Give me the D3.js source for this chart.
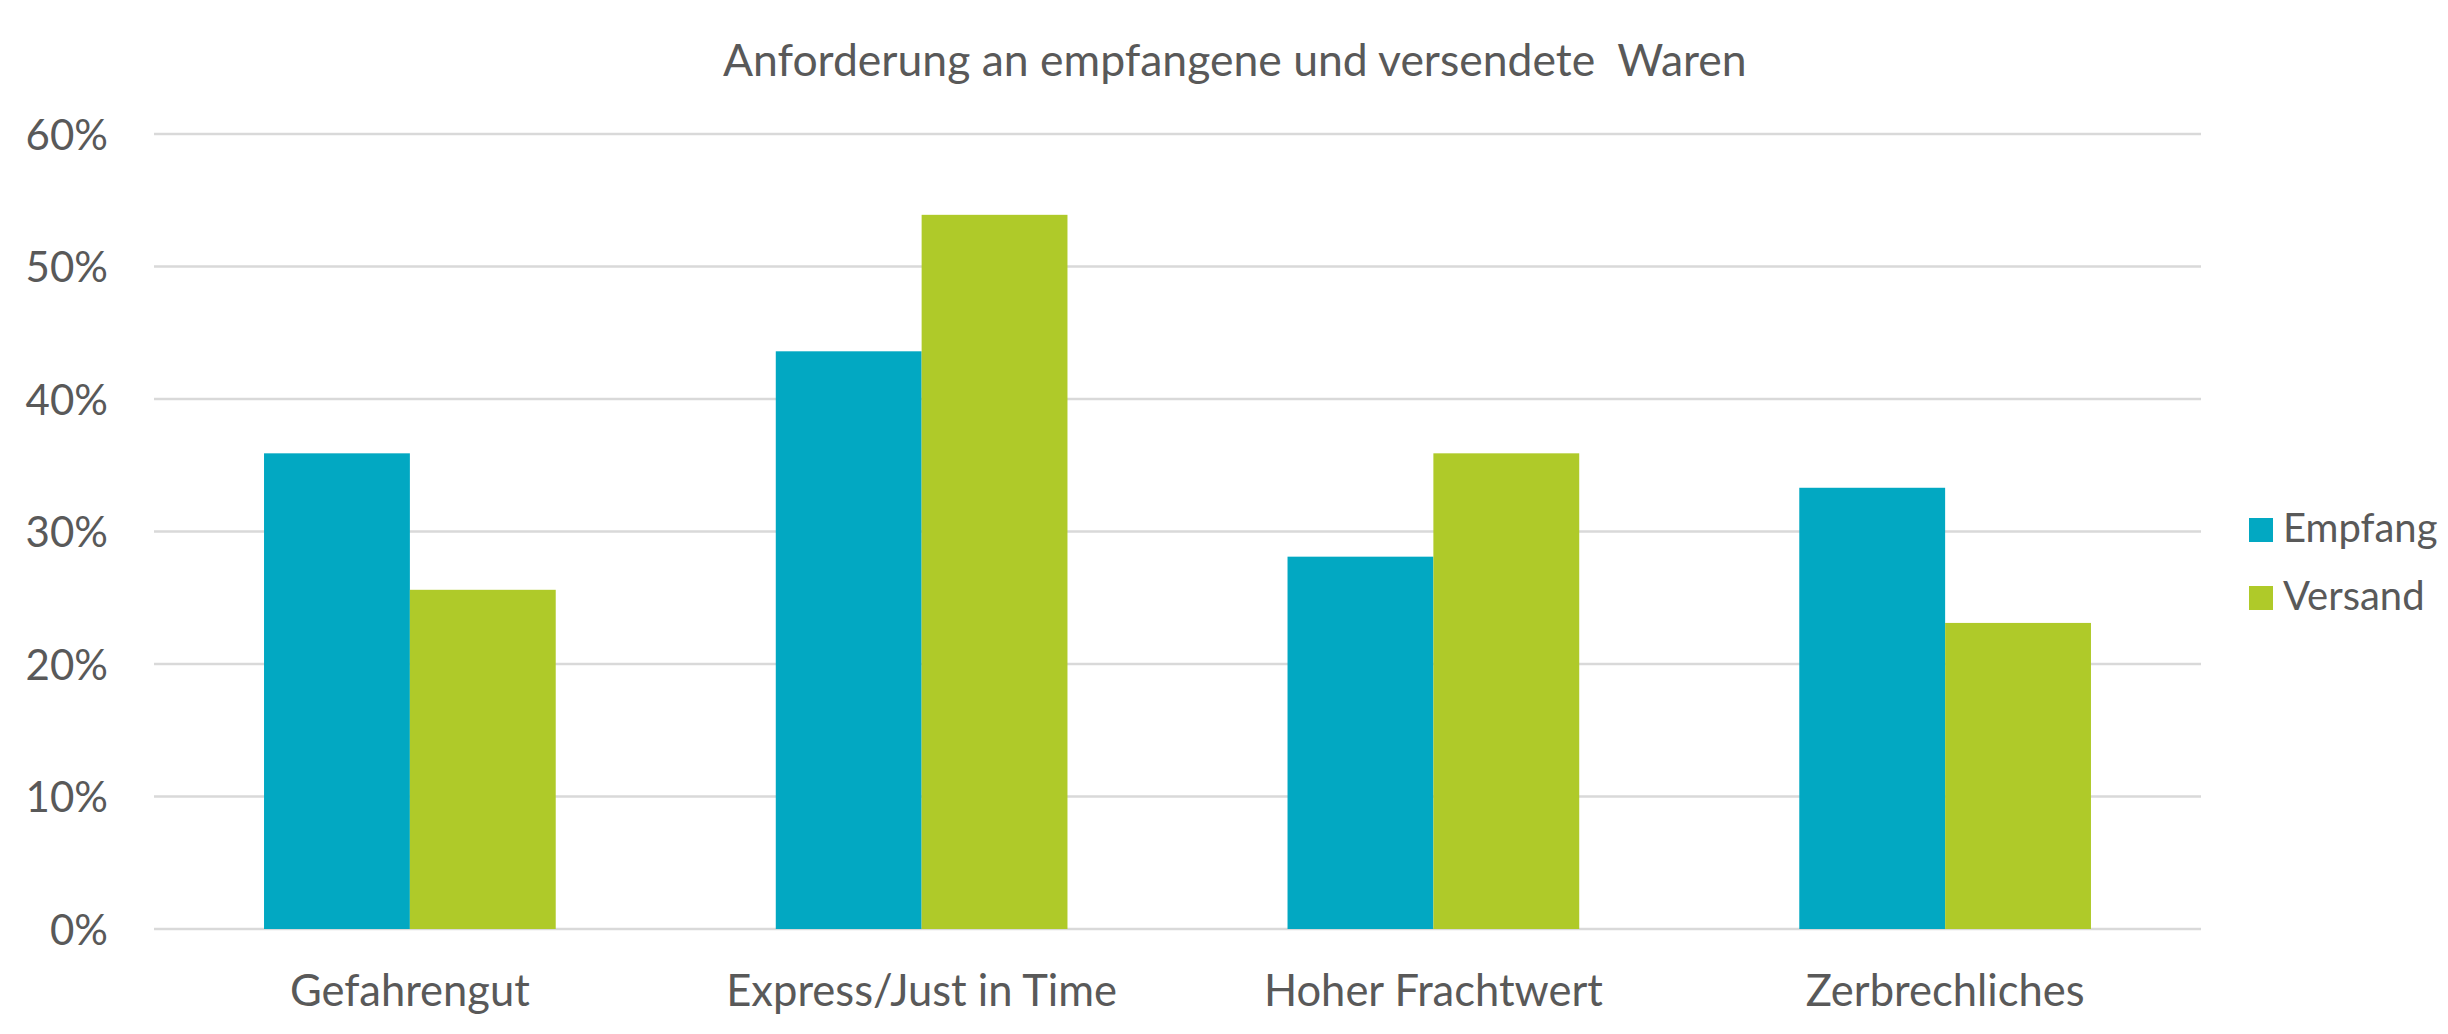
<!DOCTYPE html>
<html>
<head>
<meta charset="utf-8">
<script src="https://cdn.jsdelivr.net/npm/d3@7"></script>
<style>
	body { margin: 0; background: #fff; }
	text { font-family: Lato, "Open Sans", sans-serif; fill: #595959; }
</style>
</head>
<body>
<div id="chart"></div>
<script>
// dati
const categories = ["Gefahrengut", "Express/Just in Time", "Hoher Frachtwert", "Zerbrechliches"];
const seriesNames = ["Empfang", "Versand"];
const empfang = [0.359, 0.436, 0.281, 0.333];
const versand = [0.256, 0.539, 0.359, 0.231];
const yTicks = [0, 0.1, 0.2, 0.3, 0.4, 0.5, 0.6];
const colors = ["#02a8c2", "#afca29"];

const W = 2448, H = 1034;
const margin = { top: 134, right: 247, bottom: 105, left: 154 },
	width = W - margin.left - margin.right,
	height = H - margin.top - margin.bottom;

const svg = d3.select("#chart").append("svg")
	.attr("width", W)
	.attr("height", H),
	g = svg.append("g")
		.attr("transform", "translate(" + margin.left + "," + margin.top + ")");

const x0 = d3.scaleBand().domain(categories).range([0, width]);
// la coppia di barre occupa circa il 57% della banda
const x1 = d3.scaleBand().domain(seriesNames)
	.range([x0.bandwidth() * 0.215, x0.bandwidth() * 0.785]);
const y = d3.scaleLinear().domain([0, 0.6]).range([height, 0]);

// griglia orizzontale
g.selectAll(".grid")
	.data(yTicks)
	.enter().append("line")
	.attr("x1", 0).attr("x2", width)
	.attr("y1", d => y(d)).attr("y2", d => y(d))
	.style("stroke", "#d9d9d9")
	.style("stroke-width", 2.5);

// asse y
const yAxis = g.append("g")
	.call(d3.axisLeft(y).tickValues(yTicks).tickFormat(d3.format(".0%")).tickSize(0).tickPadding(46));
yAxis.select(".domain").remove();
yAxis.selectAll("text").style("font-size", "42px").attr("dy", "0.36em");

// asse x
const xAxis = g.append("g")
	.attr("transform", "translate(0," + height + ")")
	.call(d3.axisBottom(x0).tickSize(0).tickPadding(46));
xAxis.select(".domain").remove();
xAxis.selectAll("text").style("font-size", "43.5px");

// barre
const rows = categories.map((c, i) => ({ cat: c, values: [empfang[i], versand[i]] }));
const group = g.selectAll(".group")
	.data(rows)
	.enter().append("g")
	.attr("transform", d => "translate(" + x0(d.cat) + ",0)");

group.selectAll("rect")
	.data(d => d.values.map((v, k) => ({ key: seriesNames[k], value: v, k: k })))
	.enter().append("rect")
	.attr("x", d => x1(d.key))
	.attr("width", x1.bandwidth())
	.attr("y", d => y(d.value))
	.attr("height", d => y(0) - y(d.value))
	.style("fill", d => colors[d.k]);

// titolo
svg.append("text")
	.attr("x", 723)
	.attr("y", 76)
	.style("font-size", "44.5px")
	.style("white-space", "pre")
	.text("Anforderung an empfangene und versendete\u00a0 Waren");

// legenda
const legend = svg.append("g")
	.attr("transform", "translate(2249,518)");
const item = legend.selectAll(".item")
	.data(seriesNames)
	.enter().append("g")
	.attr("transform", (d, i) => "translate(0," + i * 68 + ")");
item.append("rect")
	.attr("width", 24).attr("height", 24)
	.style("fill", (d, i) => colors[i]);
item.append("text")
	.attr("x", 34)
	.attr("y", 24)
	.style("font-size", "40px")
	.text(d => d);
</script>
</body>
</html>
